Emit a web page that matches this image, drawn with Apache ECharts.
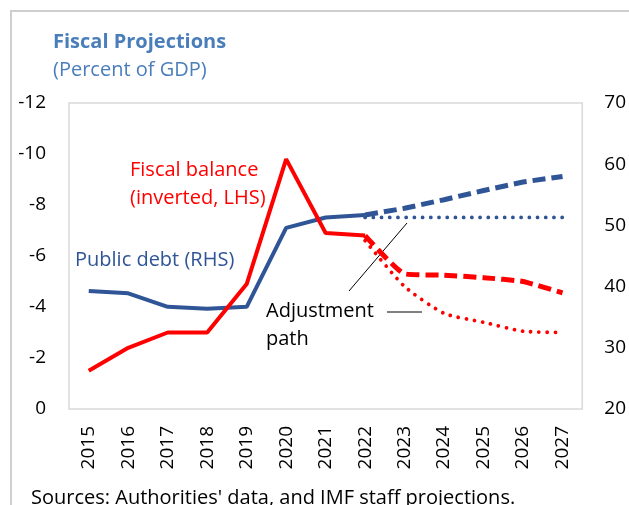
<!DOCTYPE html>
<html>
<head>
<meta charset="utf-8">
<script src="https://cdn.jsdelivr.net/npm/echarts@6/dist/echarts.min.js"></script>
<style>
html,body{margin:0;padding:0;background:#fff;}
#chart{width:629px;height:505px;}
</style>
</head>
<body>
<div id="chart"></div>
<script>
var years = ['2015','2016','2017','2018','2019','2020','2021','2022','2023','2024','2025','2026','2027'];
var fiscalActual   = [-1.5,-2.4,-3.0,-3.0,-4.9,-9.8,-6.9,-6.8,null,null,null,null,null];
var fiscalBaseline = [null,null,null,null,null,null,null,-6.8,-5.3,-5.25,-5.15,-5.0,-4.55];
var fiscalAdjust   = [null,null,null,null,null,null,null,-6.6,-4.8,-3.75,-3.4,-3.05,-3.0];
var debtActual     = [39.3,38.9,36.7,36.4,36.7,49.6,51.3,51.7,null,null,null,null,null];
var debtBaseline   = [null,null,null,null,null,null,null,51.7,52.8,54.2,55.7,57.1,58.0];
var debtAdjust     = [null,null,null,null,null,null,null,51.3,51.3,51.3,51.3,51.3,51.3];
var leftTicks  = {min:-12, max:0, interval:2};
var rightTicks = {min:20, max:70, interval:10};

var RED = '#ff0000', BLUE = '#2f5597', FONT = 'Open Sans';
var chart = echarts.init(document.getElementById('chart'));
chart.setOption({
  animation:false,
  textStyle:{fontFamily:FONT},
  title:[
    {text:'Fiscal Projections', left:48, top:27, textStyle:{fontFamily:FONT,fontSize:20,fontWeight:'bold',color:'#4a7ebb'}},
    {text:'(Percent of GDP)', left:48, top:55, textStyle:{fontFamily:FONT,fontSize:20,fontWeight:'normal',color:'#4a7ebb'}}
  ],
  grid:{left:69, top:103, right:42, bottom:96, show:true, borderColor:'#d9d9d9', borderWidth:1.5, backgroundColor:'transparent'},
  xAxis:{type:'category', data:years, boundaryGap:true,
    axisLine:{show:false}, axisTick:{show:false},
    axisLabel:{rotate:90, margin:17, fontSize:19, color:'#000', fontFamily:FONT, interval:0}},
  yAxis:[
    {type:'value', inverse:true, min:leftTicks.min, max:leftTicks.max, interval:leftTicks.interval,
     axisLine:{show:false}, axisTick:{show:false}, splitLine:{show:false},
     axisLabel:{margin:23, fontSize:19, color:'#000', fontFamily:FONT}},
    {type:'value', position:'right', min:rightTicks.min, max:rightTicks.max, interval:rightTicks.interval,
     axisLine:{show:false}, axisTick:{show:false}, splitLine:{show:false},
     axisLabel:{margin:22, fontSize:19, color:'#000', fontFamily:FONT}}
  ],
  series:[
    {type:'line', yAxisIndex:1, data:debtAdjust, showSymbol:false,
     lineStyle:{color:BLUE, width:3.8, type:[0.01,8.2], cap:'round'}},
    {type:'line', yAxisIndex:1, data:debtBaseline, showSymbol:false,
     lineStyle:{color:BLUE, width:5, type:[13,6]}},
    {type:'line', yAxisIndex:1, data:debtActual, showSymbol:false,
     lineStyle:{color:BLUE, width:4}},
    {type:'line', yAxisIndex:0, data:fiscalAdjust, showSymbol:false, smooth:0.2,
     lineStyle:{color:RED, width:3.8, type:[0.01,8.2], cap:'round'}},
    {type:'line', yAxisIndex:0, data:fiscalBaseline, showSymbol:false, smooth:0.15,
     lineStyle:{color:RED, width:5, type:[13,6]}},
    {type:'line', yAxisIndex:0, data:fiscalActual, showSymbol:false,
     lineStyle:{color:RED, width:4}}
  ],
  graphic:[
    {type:'rect', shape:{x:11, y:11, width:700, height:600}, style:{fill:'none', stroke:'#cfcfcf', lineWidth:2}, silent:true, z:-1},
    {type:'text', left:130, top:156, style:{text:'Fiscal balance\n(inverted, LHS)', fill:RED, font:'20px "Open Sans"', lineHeight:28}},
    {type:'text', left:75, top:250, style:{text:'Public debt (RHS)', fill:BLUE, font:'20px "Open Sans"'}},
    {type:'text', left:266, top:297, style:{text:'Adjustment\npath', fill:'#000', font:'20px "Open Sans"', lineHeight:28}},
    {type:'line', shape:{x1:349, y1:291, x2:407, y2:223}, style:{stroke:'#000', lineWidth:1}},
    {type:'line', shape:{x1:387, y1:312, x2:422, y2:312}, style:{stroke:'#000', lineWidth:1}},
    {type:'text', left:31, top:488, style:{text:"Sources: Authorities' data, and IMF staff projections.", fill:'#000', font:'20px "Open Sans"'}}
  ]
});
</script>
</body>
</html>
